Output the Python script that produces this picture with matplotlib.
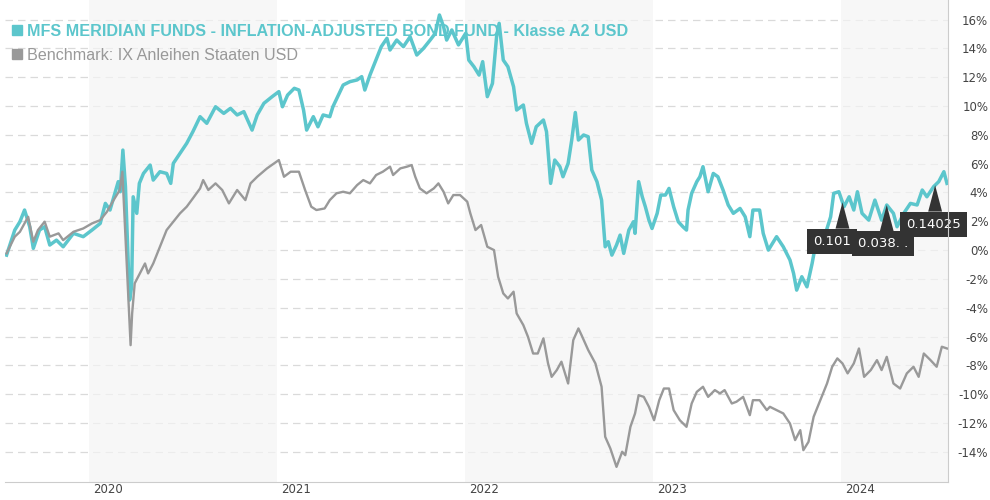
import numpy as np
import pandas as pd
import matplotlib
matplotlib.use("Agg")
import matplotlib.pyplot as plt
import matplotlib.dates as mdates
from matplotlib.lines import Line2D
from matplotlib.patches import Polygon
from matplotlib.transforms import Affine2D, ScaledTranslation

# Fonds (Wertentwicklung in %)
fund_dates = [
    "2019-07-25", "2019-08-10", "2019-08-20", "2019-08-29", "2019-09-08", "2019-09-15", "2019-09-27", "2019-10-07", "2019-10-17", "2019-10-30",
    "2019-11-12", "2019-12-02", "2019-12-21", "2020-01-07", "2020-01-23", "2020-02-02", "2020-02-11", "2020-02-27", "2020-03-02", "2020-03-07",
    "2020-03-12", "2020-03-20", "2020-03-24", "2020-03-27", "2020-04-03", "2020-04-08", "2020-04-16", "2020-04-29", "2020-05-05", "2020-05-18",
    "2020-05-31", "2020-06-08", "2020-06-13", "2020-06-26", "2020-07-09", "2020-07-21", "2020-08-04", "2020-08-17", "2020-09-03", "2020-09-19",
    "2020-10-02", "2020-10-15", "2020-10-28", "2020-11-13", "2020-11-23", "2020-12-06", "2020-12-22", "2021-01-04", "2021-01-11", "2021-01-21",
    "2021-02-03", "2021-02-12", "2021-02-21", "2021-02-27", "2021-03-12", "2021-03-21", "2021-03-31", "2021-04-13", "2021-04-19", "2021-05-09",
    "2021-05-22", "2021-06-05", "2021-06-14", "2021-06-20", "2021-06-30", "2021-07-09", "2021-07-22", "2021-08-02", "2021-08-08", "2021-08-21",
    "2021-09-03", "2021-09-16", "2021-09-29", "2021-10-12", "2021-10-25", "2021-11-04", "2021-11-12", "2021-11-20", "2021-11-26", "2021-12-06",
    "2021-12-19", "2022-01-02", "2022-01-08", "2022-01-18", "2022-01-28", "2022-02-04", "2022-02-13", "2022-02-23", "2022-03-03", "2022-03-08",
    "2022-03-16", "2022-03-25", "2022-04-05", "2022-04-11", "2022-04-24", "2022-04-30", "2022-05-10", "2022-05-19", "2022-06-02", "2022-06-08",
    "2022-06-16", "2022-06-24", "2022-07-04", "2022-07-10", "2022-07-20", "2022-07-27", "2022-08-03", "2022-08-09", "2022-08-19", "2022-08-28",
    "2022-09-04", "2022-09-14", "2022-09-23", "2022-09-30", "2022-10-06", "2022-10-13", "2022-10-22", "2022-10-29", "2022-11-05", "2022-11-15",
    "2022-11-24", "2022-11-27", "2022-12-04", "2022-12-11", "2022-12-17", "2022-12-24", "2022-12-30", "2023-01-09", "2023-01-16", "2023-01-25",
    "2023-02-01", "2023-02-10", "2023-02-19", "2023-02-28", "2023-03-07", "2023-03-10", "2023-03-17", "2023-03-27", "2023-04-02", "2023-04-08",
    "2023-04-18", "2023-04-28", "2023-05-07", "2023-05-17", "2023-05-27", "2023-06-06", "2023-06-19", "2023-06-29", "2023-07-08", "2023-07-14",
    "2023-07-27", "2023-08-03", "2023-08-13", "2023-08-29", "2023-09-11", "2023-09-24", "2023-10-01", "2023-10-07", "2023-10-17", "2023-10-27",
    "2023-11-06", "2023-11-12", "2023-11-22", "2023-12-02", "2023-12-12", "2023-12-18", "2023-12-28", "2024-01-07", "2024-01-17", "2024-01-26",
    "2024-02-02", "2024-02-11", "2024-02-24", "2024-03-07", "2024-03-20", "2024-03-30", "2024-04-12", "2024-04-19", "2024-05-02", "2024-05-15",
    "2024-05-28", "2024-06-07", "2024-06-16", "2024-06-29", "2024-07-09", "2024-07-19", "2024-07-25",
]
fund_values = [
    -0.35, 1.39, 1.97, 2.78, 1.62, 0.12, 1.39, 1.62, 0.35, 0.69,
    0.23, 1.16, 0.93, 1.39, 1.85, 3.24, 2.78, 4.75, 4.05, 6.94,
    4.40, -3.47, -2.55, 3.70, 2.55, 4.63, 5.32, 5.90, 4.86, 5.44,
    5.32, 4.63, 6.02, 6.71, 7.41, 8.22, 9.26, 8.80, 9.95, 9.49,
    9.84, 9.38, 9.61, 8.33, 9.38, 10.19, 10.65, 11.00, 9.95, 10.76,
    11.23, 11.11, 9.72, 8.33, 9.26, 8.56, 9.38, 9.26, 9.95, 11.46,
    11.69, 11.81, 12.04, 11.11, 12.15, 12.96, 14.12, 14.70, 13.89, 14.58,
    14.12, 14.81, 13.54, 14.00, 14.58, 15.05, 16.32, 15.51, 14.58, 15.28,
    14.24, 15.05, 13.19, 12.73, 12.15, 13.08, 10.65, 11.57, 14.81, 15.74,
    13.19, 12.73, 11.34, 9.72, 10.07, 8.80, 7.41, 8.56, 9.03, 8.22,
    4.63, 6.25, 5.79, 5.09, 6.02, 7.64, 9.55, 7.64, 7.99, 7.87,
    5.56, 4.75, 3.47, 0.23, 0.58, -0.35, 0.35, 1.04, -0.23, 1.39,
    1.97, 1.16, 4.75, 3.70, 3.01, 2.08, 1.50, 2.55, 3.82, 3.82,
    4.28, 3.01, 1.97, 1.62, 1.39, 2.78, 3.94, 4.75, 5.09, 5.79,
    4.05, 5.32, 5.09, 4.17, 3.13, 2.55, 2.89, 2.31, 0.93, 2.78,
    2.78, 1.16, 0.00, 0.93, 0.23, -0.69, -1.62, -2.78, -1.85, -2.55,
    -0.93, 0.23, 0.69, 1.16, 2.31, 3.94, 4.05, 3.01, 3.70, 2.78,
    4.05, 2.55, 2.08, 3.47, 2.08, 3.13, 2.55, 1.62, 2.55, 3.24,
    3.13, 4.17, 3.70, 4.40, 4.75, 5.44, 4.63,
]

# Benchmark (Wertentwicklung in %)
bench_dates = [
    "2019-07-25", "2019-08-10", "2019-08-20", "2019-09-05", "2019-09-15", "2019-09-24", "2019-10-07", "2019-10-17", "2019-11-03", "2019-11-12",
    "2019-12-02", "2019-12-21", "2020-01-07", "2020-01-23", "2020-02-05", "2020-02-18", "2020-03-01", "2020-03-06", "2020-03-22", "2020-03-25",
    "2020-03-30", "2020-04-09", "2020-04-19", "2020-04-25", "2020-05-05", "2020-05-18", "2020-05-31", "2020-06-13", "2020-06-26", "2020-07-09",
    "2020-07-21", "2020-08-04", "2020-08-10", "2020-08-20", "2020-09-03", "2020-09-16", "2020-09-29", "2020-10-15", "2020-10-31", "2020-11-10",
    "2020-11-23", "2020-12-12", "2021-01-04", "2021-01-14", "2021-01-27", "2021-02-12", "2021-02-24", "2021-03-08", "2021-03-18", "2021-04-03",
    "2021-04-13", "2021-04-26", "2021-05-09", "2021-05-22", "2021-06-05", "2021-06-17", "2021-06-30", "2021-07-12", "2021-07-25", "2021-08-08",
    "2021-08-14", "2021-08-28", "2021-09-10", "2021-09-19", "2021-09-26", "2021-10-05", "2021-10-18", "2021-11-01", "2021-11-10", "2021-11-20",
    "2021-11-29", "2021-12-09", "2021-12-22", "2022-01-05", "2022-01-11", "2022-01-21", "2022-02-01", "2022-02-13", "2022-02-26", "2022-03-06",
    "2022-03-16", "2022-03-25", "2022-04-05", "2022-04-11", "2022-04-24", "2022-05-03", "2022-05-13", "2022-05-22", "2022-06-02", "2022-06-11",
    "2022-06-18", "2022-06-28", "2022-07-07", "2022-07-20", "2022-07-30", "2022-08-09", "2022-08-15", "2022-08-28", "2022-09-11", "2022-09-23",
    "2022-09-30", "2022-10-10", "2022-10-22", "2022-11-02", "2022-11-08", "2022-11-18", "2022-11-27", "2022-12-04", "2022-12-14", "2022-12-24",
    "2023-01-03", "2023-01-13", "2023-01-22", "2023-02-01", "2023-02-10", "2023-02-22", "2023-03-07", "2023-03-17", "2023-03-27", "2023-04-08",
    "2023-04-18", "2023-05-01", "2023-05-11", "2023-05-20", "2023-06-03", "2023-06-12", "2023-06-25", "2023-07-08", "2023-07-14", "2023-07-27",
    "2023-08-10", "2023-08-16", "2023-08-29", "2023-09-11", "2023-09-24", "2023-10-04", "2023-10-14", "2023-10-20", "2023-10-30", "2023-11-09",
    "2023-11-22", "2023-12-05", "2023-12-15", "2023-12-25", "2024-01-04", "2024-01-14", "2024-01-26", "2024-02-05", "2024-02-15", "2024-02-28",
    "2024-03-11", "2024-03-20", "2024-03-30", "2024-04-12", "2024-04-25", "2024-05-08", "2024-05-21", "2024-05-31", "2024-06-10", "2024-06-23",
    "2024-07-05", "2024-07-15", "2024-07-25",
]
bench_values = [
    -0.23, 0.93, 1.27, 2.31, 0.58, 1.39, 1.97, 0.93, 1.16, 0.69,
    1.27, 1.50, 1.85, 2.08, 2.66, 3.47, 4.17, 5.44, -6.60, -4.40,
    -2.31, -1.62, -0.93, -1.62, -0.93, 0.23, 1.39, 1.97, 2.55, 3.01,
    3.59, 4.28, 4.86, 4.17, 4.63, 4.17, 3.24, 4.17, 3.47, 4.63,
    5.09, 5.67, 6.25, 5.09, 5.44, 5.44, 4.17, 3.01, 2.78, 2.89,
    3.47, 3.94, 4.05, 3.94, 4.51, 4.86, 4.63, 5.21, 5.44, 5.79,
    5.21, 5.67, 5.79, 5.90, 5.09, 4.28, 3.94, 4.28, 4.63, 4.05,
    3.24, 3.82, 3.82, 3.36, 2.55, 1.39, 1.74, 0.23, 0.00, -1.85,
    -3.01, -3.36, -2.89, -4.40, -5.21, -6.02, -7.18, -7.18, -6.13, -7.87,
    -8.80, -8.33, -7.75, -9.26, -6.25, -5.44, -5.90, -6.94, -7.87, -9.49,
    -12.96, -13.77, -15.05, -14.00, -14.24, -12.27, -11.34, -10.07, -10.19, -10.88,
    -11.81, -10.42, -9.61, -9.61, -11.11, -11.81, -12.27, -10.65, -9.84, -9.49,
    -10.19, -9.72, -9.95, -9.72, -10.65, -10.53, -10.19, -11.46, -10.42, -10.42,
    -11.11, -10.88, -11.11, -11.34, -12.04, -13.19, -12.50, -13.89, -13.31, -11.57,
    -10.42, -9.26, -8.10, -7.52, -7.87, -8.56, -7.87, -6.83, -8.80, -8.33,
    -7.64, -8.33, -7.41, -9.26, -9.61, -8.56, -8.10, -8.80, -7.18, -7.64,
    -8.10, -6.71, -6.83,
]

# Ausschuettungen (Flags)
flag_dates = ["2024-01-04", "2024-03-30", "2024-07-02"]
flag_labels = ["0.101", "0.038. .", "0.14025"]

year_labels = ["2020", "2021", "2022", "2023", "2024"]
shaded_years = ["2020", "2022", "2024"]
y_ticks = list(range(-14, 17, 2))

fund_name = "MFS MERIDIAN FUNDS - INFLATION-ADJUSTED BOND FUND - Klasse A2 USD"
bench_name = "Benchmark: IX Anleihen Staaten USD"

TEAL = "#5cc6cc"
GREY = "#999999"
FLAG = "#333333"

fund_x = pd.to_datetime(fund_dates)
bench_x = pd.to_datetime(bench_dates)

fig = plt.figure(figsize=(9.9, 5.0), dpi=100)
ax = fig.add_axes([5 / 990, 18 / 500, 943 / 990, 482 / 500])

# Gitternetz
for t in y_ticks:
    ax.axhline(t, color="#dadada", lw=0.9, ls=(0, (6, 4)), zorder=0.3)

# Jahresbaender (Gitter scheint schwach durch)
x_end = fund_x[-1] + pd.Timedelta(days=2)
for yr in shaded_years:
    start = pd.Timestamp(yr + "-01-01")
    stop = min(pd.Timestamp(str(int(yr) + 1) + "-01-01"), x_end)
    ax.axvspan(start, stop, color="#f5f5f5", alpha=0.7, lw=0, zorder=0.5)

ax.plot(fund_x, fund_values, color=TEAL, lw=2.5, zorder=3, solid_joinstyle="round")
ax.plot(bench_x, bench_values, color=GREY, lw=1.7, zorder=4, solid_joinstyle="round")

ax.set_xlim(fund_x[0] - pd.Timedelta(days=3), x_end)
ax.set_ylim(-16.1, 17.36)

# Achsen
for side in ["top", "left"]:
    ax.spines[side].set_visible(False)
ax.spines["bottom"].set_color("#cccccc")
ax.spines["right"].set_color("#cccccc")
ax.spines["right"].set_zorder(10)

ax.yaxis.tick_right()
ax.set_yticks(y_ticks)
ax.set_yticklabels([f"{t}%" for t in y_ticks])
ax.tick_params(axis="y", length=0, pad=29, labelsize=8.5, labelcolor="#444444")
for lab in ax.get_yticklabels():
    lab.set_horizontalalignment("right")

ax.set_xticks([pd.Timestamp(y + "-01-01") for y in year_labels])
ax.set_xticklabels(year_labels)
ax.tick_params(axis="x", length=0, pad=1, labelsize=8.5, labelcolor="#444444")
shift = ScaledTranslation(3 / 72, 0, fig.dpi_scale_trans)
for lab in ax.get_xticklabels():
    lab.set_horizontalalignment("left")
    lab.set_transform(lab.get_transform() + shift)

# Flags an den Ausschuettungsterminen
fx_num = mdates.date2num(fund_x)
for d, lab in zip(flag_dates, flag_labels):
    xd = mdates.date2num(pd.Timestamp(d))
    yd = np.interp(xd, fx_num, fund_values)
    tr = Affine2D().scale(fig.dpi / 72) + ScaledTranslation(xd, yd, ax.transData)
    tri = Polygon([(-5, -19), (0, 0), (5, -19)], closed=True, fc=FLAG, ec="none",
                  transform=tr, zorder=6)
    ax.add_patch(tri)
    ax.annotate(lab, xy=(xd, yd), xytext=(-21, -28), textcoords="offset points",
                ha="left", va="center", color="white", fontsize=9.5,
                bbox=dict(boxstyle="square,pad=0.45", fc=FLAG, ec="none"), zorder=6)

# Legende
handles = [
    Line2D([], [], ls="none", marker="s", ms=7, color=TEAL),
    Line2D([], [], ls="none", marker="s", ms=7, color=GREY),
]
leg = ax.legend(handles, [fund_name, bench_name], loc="upper left",
                bbox_to_anchor=(-0.004, 0.97), frameon=False, handlelength=0.7,
                handletextpad=0.3, labelspacing=0.52, borderaxespad=0.2,
                prop={"family": "Liberation Sans", "size": 11.6})
leg.set_zorder(2)
texts = leg.get_texts()
texts[0].set_color(TEAL)
texts[0].set_fontweight("bold")
texts[1].set_color(GREY)

fig.savefig("out.png", dpi=100)
